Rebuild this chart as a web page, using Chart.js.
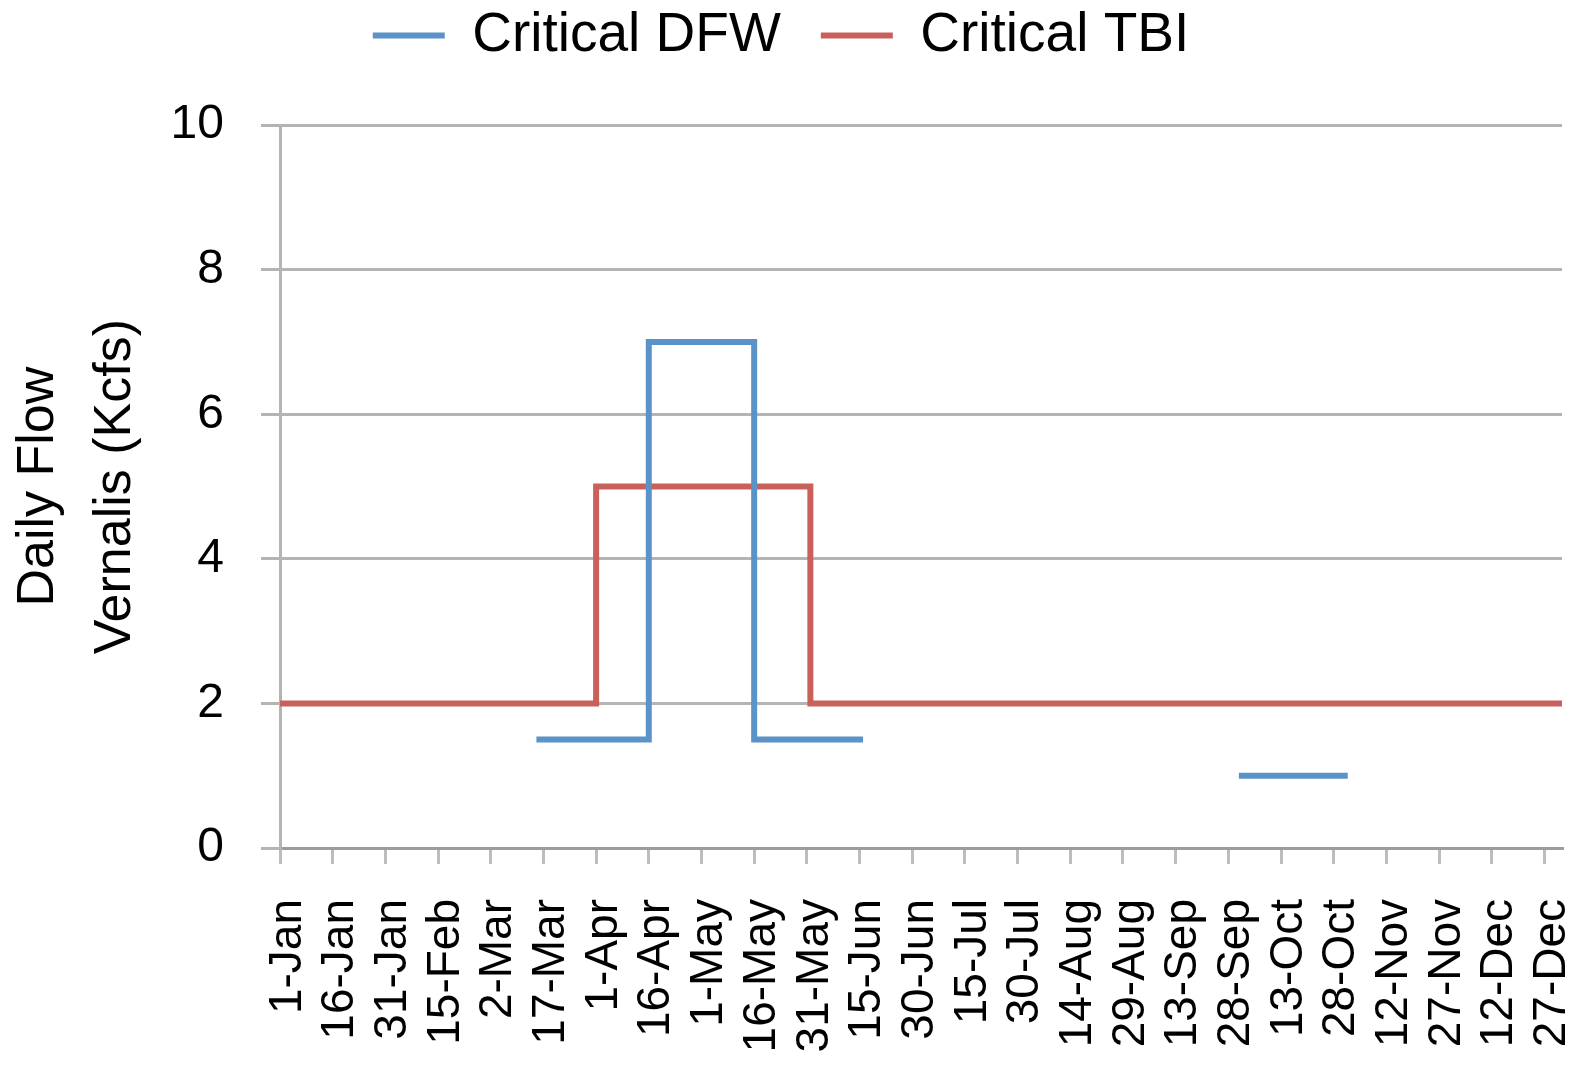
<!DOCTYPE html>
<html>
<head>
<meta charset="utf-8">
<script src="https://cdn.jsdelivr.net/npm/chart.js@4.4.1/dist/chart.umd.min.js"></script>
<style>
  body { margin: 0; background: #fff; }
</style>
</head>
<body>
<canvas id="chart" width="1579" height="1071"></canvas>
<script>
// day of year (0 = 1-Jan) where each step starts, and the flow from there on
const dfwDays = [73, 105, 135, 166, 220, 273, 304];
const dfwFlow = [1.5, 7, 1.5, 1.5, null, 1, 1];
const tbiDays = [0, 90, 151, 365];
const tbiFlow = [2, 5, 2, 2];

const tickLabels = [
  "1-Jan", "16-Jan", "31-Jan", "15-Feb", "2-Mar", "17-Mar", "1-Apr", "16-Apr",
  "1-May", "16-May", "31-May", "15-Jun", "30-Jun", "15-Jul", "30-Jul", "14-Aug",
  "29-Aug", "13-Sep", "28-Sep", "13-Oct", "28-Oct", "12-Nov", "27-Nov", "12-Dec", "27-Dec"
];
const tickDays = tickLabels.map((_, i) => i * 15);

const toPoints = (days, flow) => days.map((d, i) => ({ x: d, y: flow[i] }));

Chart.defaults.font.family = '"Liberation Sans", Arial, sans-serif';
Chart.defaults.color = "#000";

new Chart(document.getElementById("chart"), {
  type: "line",
  data: {
    datasets: [
      {
        label: "Critical DFW",
        data: toPoints(dfwDays, dfwFlow),
        borderColor: "#5b93c9",
        backgroundColor: "#5b93c9",
        borderWidth: 6,
        stepped: true,
        pointRadius: 0,
        spanGaps: false,
      },
      {
        label: "Critical TBI",
        data: toPoints(tbiDays, tbiFlow),
        borderColor: "#c9615b",
        backgroundColor: "#c9615b",
        borderWidth: 6,
        stepped: true,
        pointRadius: 0,
      },
    ],
  },
  options: {
    responsive: false,
    animation: false,
    layout: { padding: { top: -32, right: 17, left: 0, bottom: 0 } },
    plugins: {
      tooltip: { enabled: false },
      legend: {
        position: "top",
        labels: {
          font: { size: 55 },
          usePointStyle: true,
          pointStyle: "line",
          pointStyleWidth: 72,
          padding: 40,
        },
      },
      // empty title used as a spacer between legend and plot
      title: {
        display: true,
        text: "",
        weight: 10,
        font: { size: 1 },
        padding: { top: 51, bottom: 0 },
      },
    },
    scales: {
      x: {
        type: "linear",
        min: 0,
        max: 365,
        afterBuildTicks: (scale) => {
          scale.ticks = tickDays.map((v) => ({ value: v }));
        },
        afterFit: (scale) => {
          scale.height = 223;
          scale.paddingLeft = 0;
          scale.paddingRight = 0;
        },
        ticks: {
          autoSkip: false,
          minRotation: 90,
          maxRotation: 90,
          padding: 35,
          labelOffset: 8,
          font: { size: 46 },
          callback: (v, i) => tickLabels[i],
        },
        grid: {
          drawOnChartArea: false,
          tickLength: 16,
          color: "#bdbdbd",
          lineWidth: 3,
        },
        border: { color: "#9c9c9c", width: 3 },
      },
      y: {
        min: 0,
        max: 10,
        afterFit: (scale) => { scale.width = 280; },
        ticks: {
          stepSize: 2,
          padding: 37,
          font: { size: 48 },
        },
        grid: {
          color: "#b4b4b4",
          lineWidth: 3,
          tickLength: 19,
        },
        border: { color: "#b4b4b4", width: 3 },
        title: {
          display: true,
          text: ["Daily Flow", "Vernalis (Kcfs)"],
          font: { size: 52, lineHeight: 1.48 },
          padding: { top: 0, bottom: 0 },
        },
      },
    },
  },
});
</script>
</body>
</html>
